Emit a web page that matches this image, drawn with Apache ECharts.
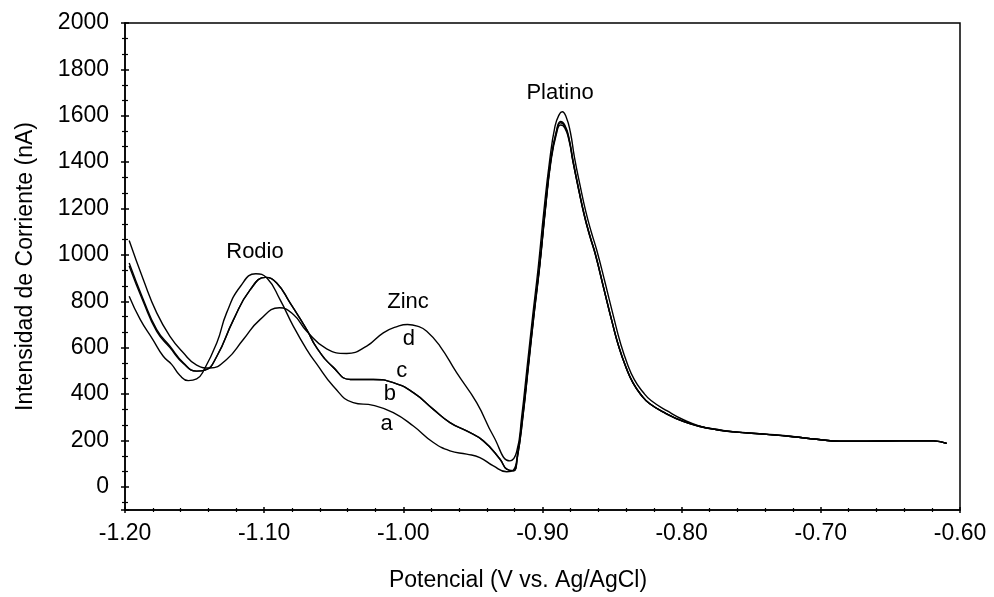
<!DOCTYPE html>
<html>
<head>
<meta charset="utf-8">
<script src="https://cdn.jsdelivr.net/npm/echarts@6/dist/echarts.min.js"></script>
<style>
html,body{margin:0;padding:0;background:#fff;}
#chart{width:994px;height:597px;}
</style>
</head>
<body>
<div id="chart"></div>
<script>
// ---- Data (potential in V, current in nA) ----
const curveA = [[-1.197,822],[-1.189,721],[-1.180,635],[-1.1725,563],[-1.1665,528],[-1.1605,480],[-1.1545,458],[-1.1485,465],[-1.1437,499],[-1.134,621],[-1.127,750],[-1.117,865],[-1.106,919],[-1.098,900],[-1.0886,807],[-1.079,692],[-1.0694,592],[-1.0623,530],[-1.0503,434],[-1.036,363],[-1.0216,351],[-1.0072,320],[-0.9928,262],[-0.9784,191],[-0.9665,155],[-0.9545,141],[-0.945,126],[-0.9353,90],[-0.9257,65],[-0.921,72],[-0.918,140],[-0.914,320],[-0.910,540],[-0.906,760],[-0.902,960],[-0.898,1200],[-0.894,1410],[-0.890,1530],[-0.887,1570],[-0.884,1555],[-0.881,1500],[-0.878,1400],[-0.874,1280],[-0.870,1170],[-0.866,1080],[-0.862,1000],[-0.856,855],[-0.850,710],[-0.845,600],[-0.840,515],[-0.835,448],[-0.829,395],[-0.823,358],[-0.811,315],[-0.799,282],[-0.787,260],[-0.775,246],[-0.763,237],[-0.739,226],[-0.720,216],[-0.703,205],[-0.686,197],[-0.667,197],[-0.643,198],[-0.619,198],[-0.6096,187]];
const curveB = [[-1.197,965],[-1.1868,807],[-1.1772,678],[-1.1677,606],[-1.1581,535],[-1.1485,499],[-1.1425,503],[-1.134,563],[-1.122,721],[-1.110,850],[-1.099,903],[-1.091,879],[-1.0814,793],[-1.0694,678],[-1.0623,600],[-1.0503,515],[-1.038,463],[-1.0216,463],[-1.0072,449],[-0.9928,406],[-0.9784,334],[-0.9665,277],[-0.9545,241],[-0.9425,198],[-0.9305,119],[-0.9257,76],[-0.921,69],[-0.918,130],[-0.914,310],[-0.910,530],[-0.906,750],[-0.902,955],[-0.898,1195],[-0.894,1410],[-0.890,1535],[-0.887,1575],[-0.884,1560],[-0.881,1505],[-0.878,1405],[-0.874,1285],[-0.870,1175],[-0.866,1085],[-0.862,1005],[-0.856,858],[-0.850,712],[-0.845,602],[-0.840,516],[-0.835,449],[-0.829,396],[-0.823,359],[-0.811,316],[-0.799,283],[-0.787,261],[-0.775,247],[-0.763,237],[-0.739,226],[-0.720,216],[-0.703,205],[-0.686,197],[-0.667,197],[-0.643,198],[-0.619,198],[-0.6096,187]];
const curveC = [[-1.197,952],[-1.1868,797],[-1.1772,670],[-1.1677,600],[-1.1581,532],[-1.1485,499],[-1.1425,503],[-1.134,563],[-1.122,721],[-1.110,850],[-1.099,903],[-1.091,879],[-1.0814,793],[-1.0694,678],[-1.0623,600],[-1.0503,515],[-1.038,463],[-1.0216,463],[-1.0072,449],[-0.9928,406],[-0.9784,334],[-0.9665,277],[-0.9545,241],[-0.9425,198],[-0.9305,119],[-0.9257,76],[-0.921,69],[-0.918,128],[-0.914,305],[-0.910,525],[-0.906,745],[-0.902,950],[-0.898,1190],[-0.894,1400],[-0.890,1522],[-0.887,1560],[-0.884,1548],[-0.881,1495],[-0.878,1398],[-0.874,1282],[-0.870,1172],[-0.866,1082],[-0.862,1002],[-0.856,856],[-0.850,711],[-0.845,601],[-0.840,515],[-0.835,448],[-0.829,395],[-0.823,358],[-0.811,315],[-0.799,282],[-0.787,260],[-0.775,246],[-0.763,237],[-0.739,226],[-0.720,216],[-0.703,205],[-0.686,197],[-0.667,197],[-0.643,198],[-0.619,198],[-0.6096,187]];
const curveD = [[-1.197,1062],[-1.1868,893],[-1.1772,750],[-1.1677,649],[-1.1581,578],[-1.1485,525],[-1.139,512],[-1.127,549],[-1.115,635],[-1.103,721],[-1.089,772],[-1.079,743],[-1.0694,671],[-1.0551,595],[-1.0407,575],[-1.0263,607],[-1.0144,664],[-1.0040,692],[-0.9970,700],[-0.9900,693],[-0.9832,671],[-0.9737,607],[-0.9617,492],[-0.9473,363],[-0.9353,219],[-0.9234,112],[-0.9186,150],[-0.915,300],[-0.911,520],[-0.907,740],[-0.903,950],[-0.899,1190],[-0.895,1400],[-0.891,1555],[-0.888,1605],[-0.8858,1617],[-0.883,1595],[-0.880,1530],[-0.877,1420],[-0.873,1300],[-0.869,1190],[-0.865,1100],[-0.861,1020],[-0.855,880],[-0.849,735],[-0.844,620],[-0.839,530],[-0.834,462],[-0.828,410],[-0.822,372],[-0.810,326],[-0.798,287],[-0.787,262],[-0.775,248],[-0.763,238],[-0.739,227],[-0.720,217],[-0.703,205],[-0.686,197],[-0.667,197],[-0.643,198],[-0.619,198],[-0.6096,187]];
const seriesNames = ['a', 'b', 'c', 'd'];
// annotation texts and where they sit (data coordinates)
const annotationText = ['Rodio', 'Zinc', 'Platino', 'd', 'c', 'b', 'a'];
const annotationX = [-1.1066, -0.9966, -0.8874, -0.996, -1.0012, -1.0096, -1.012];
const annotationY = [1014, 797, 1700, 639, 499, 399, 270];
const xTitle = 'Potencial (V vs. Ag/AgCl)';
const yTitle = 'Intensidad de Corriente (nA)';

const FONT = 'Liberation Sans, Arial, Helvetica, sans-serif';
const curves = [curveA, curveB, curveC, curveD];

const chart = echarts.init(document.getElementById('chart'), null, {renderer: 'canvas'});

const lineSeries = curves.map((c, i) => ({
  name: seriesNames[i],
  type: 'line',
  xAxisIndex: 0, yAxisIndex: 0,
  data: c,
  showSymbol: false,
  symbol: 'none',
  smooth: 0.5,
  lineStyle: {color: '#000', width: 1.4},
  silent: true,
  z: 3
}));

const annSeries = {
  type: 'scatter',
  xAxisIndex: 0, yAxisIndex: 0,
  symbolSize: 0,
  silent: true,
  itemStyle: {color: '#000', opacity: 1},
  data: annotationText.map((t, i) => ({name: t, value: [annotationX[i], annotationY[i]]})),
  label: {
    show: true, position: 'inside', formatter: p => p.name,
    color: '#000', fontSize: 22, fontFamily: FONT, textBorderWidth: 0, opacity: 1
  },
  z: 4
};

const commonX = {
  type: 'value', min: -1.2, max: -0.6, interval: 0.1,
  splitLine: {show: false}
};
const commonY = {
  type: 'value', min: -100, max: 2000, splitNumber: 10,
  splitLine: {show: false}
};

chart.setOption({
  animation: false,
  backgroundColor: '#fff',
  grid: {left: 125, right: 34, top: 23, bottom: 86, show: true, borderColor: '#000', borderWidth: 1.5, backgroundColor: 'transparent'},
  xAxis: [
    Object.assign({}, commonX, {
      position: 'bottom',
      axisLine: {show: true, onZero: false, lineStyle: {color: '#000', width: 1.5}},
      axisTick: {show: true, inside: false, length: 3, lineStyle: {color: '#000', width: 1.5}},
      minorTick: {show: true, splitNumber: 5, length: 2, lineStyle: {color: '#000', width: 1.2}},
      axisLabel: {color: '#000', fontSize: 23, fontFamily: FONT, margin: 12, formatter: v => v.toFixed(2)},
      name: xTitle, nameLocation: 'middle', nameGap: 59,
      nameTextStyle: {color: '#000', fontSize: 23, fontFamily: FONT, padding: [0, 49, 0, 0]}
    }),
    Object.assign({}, commonX, {
      position: 'bottom',
      axisLine: {show: false, onZero: false},
      axisTick: {show: true, inside: true, length: 3, lineStyle: {color: '#000', width: 1.5}},
      minorTick: {show: true, splitNumber: 5, length: 2, lineStyle: {color: '#000', width: 1.2}},
      axisLabel: {show: false}
    })
  ],
  yAxis: [
    Object.assign({}, commonY, {
      position: 'left',
      axisLine: {show: true, onZero: false, lineStyle: {color: '#000', width: 1.5}},
      axisTick: {show: true, inside: false, length: 4, lineStyle: {color: '#000', width: 1.5}},
      minorTick: {show: true, splitNumber: 3, length: 3, lineStyle: {color: '#000', width: 1.2}},
      axisLabel: {color: '#000', fontSize: 23, fontFamily: FONT, margin: 16, formatter: v => (v < 0 ? '' : String(Math.round(v)))},
      name: yTitle, nameLocation: 'middle', nameGap: 88, nameRotate: 90,
      nameTextStyle: {color: '#000', fontSize: 23, fontFamily: FONT}
    }),
    Object.assign({}, commonY, {
      position: 'left',
      axisLine: {show: false, onZero: false},
      axisTick: {show: true, inside: true, length: 4, lineStyle: {color: '#000', width: 1.5}},
      minorTick: {show: true, splitNumber: 3, length: 3, lineStyle: {color: '#000', width: 1.2}},
      axisLabel: {show: false}
    })
  ],
  series: lineSeries.concat([annSeries])
});
</script>
</body>
</html>
